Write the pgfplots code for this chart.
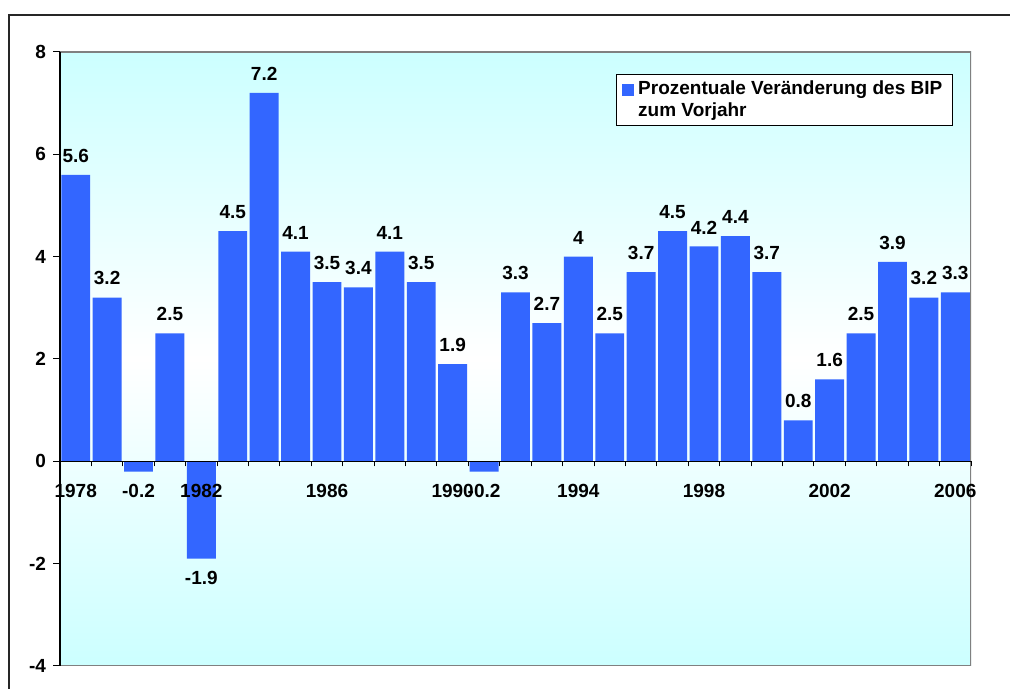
\documentclass[border=0pt]{standalone}
\usepackage{pgfplots}
\pgfplotsset{compat=1.18}
\usepackage{fontspec}
\setmainfont{Liberation Sans}
\definecolor{barblue}{RGB}{51,102,255}
\definecolor{bgcyan}{RGB}{204,255,255}
\newcommand\lf{\fontsize{9.5}{11.2}\selectfont\bfseries}

\pgfplotstableread{
year val lab
1978 5.6 5.6
1979 3.2 3.2
1980 -0.2 -0.2
1981 2.5 2.5
1982 -1.9 -1.9
1983 4.5 4.5
1984 7.2 7.2
1985 4.1 4.1
1986 3.5 3.5
1987 3.4 3.4
1988 4.1 4.1
1989 3.5 3.5
1990 1.9 1.9
1991 -0.2 -0.2
1992 3.3 3.3
1993 2.7 2.7
1994 4 4
1995 2.5 2.5
1996 3.7 3.7
1997 4.5 4.5
1998 4.2 4.2
1999 4.4 4.4
2000 3.7 3.7
2001 0.8 0.8
2002 1.6 1.6
2003 2.5 2.5
2004 3.9 3.9
2005 3.2 3.2
2006 3.3 3.3
}\gdp

\begin{document}
\begin{tikzpicture}
\useasboundingbox (0pt,0pt) rectangle (505pt,344.5pt);
\draw[line width=0.6pt, black!85] (4.5pt,-5pt) -- (4.5pt,337pt) -- (510pt,337pt);
\begin{axis}[
  at={(30pt,11.5pt)}, anchor=south west,
  scale only axis, width=455.5pt, height=307pt,
  xmin=1977.5, xmax=2006.5, ymin=-4, ymax=8,
  axis x line=middle, axis y line=left,
  axis line style={-, black, line width=0.6pt},
  axis on top,
  hide obscured x ticks=false, hide obscured y ticks=false,
  axis background/.style={shade, top color=bgcyan, bottom color=bgcyan, middle color=white},
  ybar, bar width=0.92, bar shift=0pt,
  xtick={1978,1982,...,2006},
  xticklabels={1978,1982,1986,1990,1994,1998,2002,2006},
  minor xtick={1977.5,1978.5,...,2006.5},
  ytick={-4,-2,0,2,4,6,8},
  yticklabels={-4,-2,0,2,4,6,8},
  tick label style={font=\lf},
  major x tick style={draw=none},
  minor x tick style={black, line width=0.5pt},
  ytick style={black, line width=0.5pt},
  tick align=outside,
  major tick length=3.5pt, minor tick length=2.5pt,
  xticklabel style={yshift=-4.5pt},
  nodes near coords={\pgfplotspointmeta},
  point meta=explicit symbolic,
  every node near coord/.append style={font=\lf, inner sep=6pt, text=black},
  legend cell align=left,
  legend style={at={(rel axis cs:0.610,0.964)}, anchor=north west, draw=black, line width=0.5pt, fill=white, font=\lf, inner xsep=3pt, inner ysep=1pt, nodes={align=left}},
  legend image code/.code={\fill[barblue] (0pt,2pt) rectangle (6pt,8pt);},
]
\addplot[fill=barblue, draw=none, restrict y to domain=0:100,
  every node near coord/.append style={anchor=south}] table[x=year, y=val, meta=lab]{\gdp};
\addlegendentry{Prozentuale Veränderung des BIP\\zum Vorjahr}
\addplot[fill=barblue, draw=none, restrict y to domain=-100:-0.01, forget plot,
  every node near coord/.append style={anchor=north}] table[x=year, y=val, meta=lab]{\gdp};
\draw[gray, line width=0.8pt] (rel axis cs:0,1) -- (rel axis cs:1,1) -- (rel axis cs:1,0) -- (rel axis cs:0,0);
\end{axis}
\end{tikzpicture}
\end{document}
